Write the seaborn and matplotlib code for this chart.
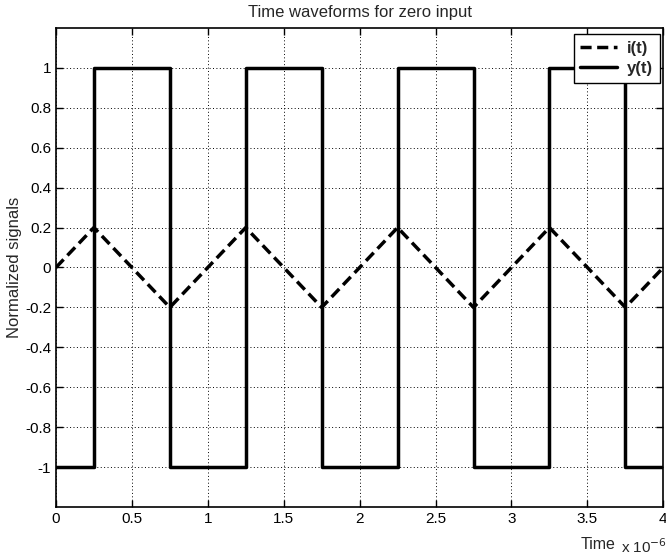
import numpy as np
import pandas as pd
import matplotlib
matplotlib.use('Agg')
import matplotlib.pyplot as plt
import seaborn as sns

# time breakpoints in microseconds (axis scaled by 1e-6)
t_tri = [0, 0.25, 0.75, 1.25, 1.75, 2.25, 2.75, 3.25, 3.75, 4.0]
i_vals = [0, 0.2, -0.2, 0.2, -0.2, 0.2, -0.2, 0.2, -0.2, 0.0]

t_sq = [0, 0.25, 0.25, 0.75, 0.75, 1.25, 1.25, 1.75, 1.75,
        2.25, 2.25, 2.75, 2.75, 3.25, 3.25, 3.75, 3.75, 4.0]
y_vals = [-1, -1, 1, 1, -1, -1, 1, 1, -1,
          -1, 1, 1, -1, -1, 1, 1, -1, -1]

x_ticks = [0, 0.5, 1, 1.5, 2, 2.5, 3, 3.5, 4]
y_ticks = [-1, -0.8, -0.6, -0.4, -0.2, 0, 0.2, 0.4, 0.6, 0.8, 1]

df_i = pd.DataFrame({'t': np.array(t_tri) * 1e-6, 'v': i_vals})
df_y = pd.DataFrame({'t': np.array(t_sq) * 1e-6, 'v': y_vals})

sns.set_style('ticks')
plt.rcParams['font.family'] = ['Liberation Sans', 'DejaVu Sans']

fig = plt.figure(figsize=(6.66, 5.59), dpi=100)
ax = fig.add_axes([0.084, 0.093, 0.912, 0.857])

sns.lineplot(data=df_i, x='t', y='v', ax=ax, color='black', lw=2.5,
             linestyle=(0, (3.2, 1.6)), label='i(t)', sort=False,
             estimator=None, errorbar=None)
sns.lineplot(data=df_y, x='t', y='v', ax=ax, color='black', lw=2.5,
             label='y(t)', sort=False, estimator=None, errorbar=None)

ax.set_xlim(0, 4e-6)
ax.set_ylim(-1.2, 1.2)
ax.set_xticks(np.array(x_ticks) * 1e-6)
ax.set_xticklabels([f'{v:g}' for v in x_ticks])
ax.set_yticks(y_ticks)
ax.set_yticklabels([f'{v:g}' for v in y_ticks])
ax.grid(True, color='black', linestyle=(0, (1, 2.5)), lw=0.7)
ax.tick_params(direction='in', top=True, right=True, labelsize=11,
               length=5, width=1, colors='black')
for s in ax.spines.values():
    s.set_color('black')
    s.set_linewidth(1.2)

ax.set_title('Time waveforms for zero input', fontsize=12, pad=8)
ax.set_ylabel('Normalized signals', fontsize=12, labelpad=2)
ax.set_xlabel('')
fig.text(0.924, 0.012, 'Time', fontsize=11.5, ha='right', va='bottom')
fig.text(0.932, 0.006, r'x 10$^{\mathsf{-6}}$', fontsize=11, ha='left', va='bottom')

leg = ax.legend(loc='upper right', bbox_to_anchor=(0.997, 0.99),
                prop={'weight': 'bold', 'size': 12}, frameon=True,
                fancybox=False, handlelength=2.2, borderpad=0.4,
                labelspacing=0.3, handletextpad=0.6, borderaxespad=0.1)
leg.get_frame().set_edgecolor('black')
leg.get_frame().set_linewidth(1.0)
leg.get_frame().set_alpha(1)

fig.savefig('out.png', dpi=100)
